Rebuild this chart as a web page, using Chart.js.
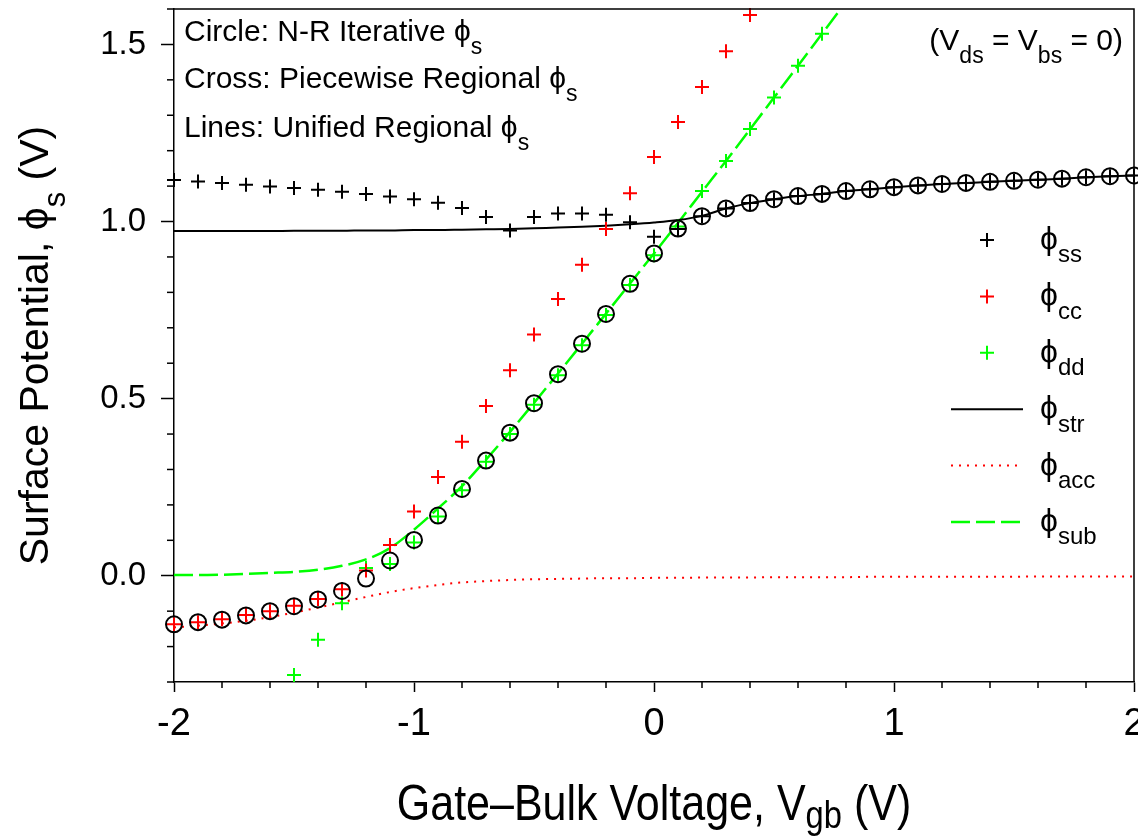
<!DOCTYPE html>
<html>
<head>
<meta charset="utf-8">
<script src="https://cdn.jsdelivr.net/npm/chart.js@4.4.0/dist/chart.umd.min.js"></script>
<style>
  html, body { margin: 0; padding: 0; background: #fff; }
</style>
</head>
<body>
<canvas id="surfChart" width="1138" height="837"></canvas>
<script>
// gate-bulk voltage grid (V)
const vgb = [-2.0, -1.9, -1.8, -1.7, -1.6, -1.5, -1.4, -1.3, -1.2, -1.1, -1.0, -0.9, -0.8, -0.7, -0.6, -0.5, -0.4, -0.3, -0.2, -0.1,
             0.0, 0.1, 0.2, 0.3, 0.4, 0.5, 0.6, 0.7, 0.8, 0.9, 1.0, 1.1, 1.2, 1.3, 1.4, 1.5, 1.6, 1.7, 1.8, 1.9, 2.0];

// circles: N-R iterative phi_s
const phiNR = [-0.137, -0.131, -0.124, -0.112, -0.100, -0.086, -0.067, -0.043, -0.008, 0.043, 0.101, 0.170, 0.245, 0.325, 0.404, 0.487, 0.569, 0.655, 0.739, 0.824,
               0.910, 0.980, 1.015, 1.037, 1.052, 1.063, 1.072, 1.078, 1.086, 1.091, 1.097, 1.102, 1.106, 1.109, 1.112, 1.115, 1.118, 1.121, 1.125, 1.128, 1.130];

// crosses: piecewise regional
const phiSS = [1.117, 1.113, 1.109, 1.104, 1.099, 1.095, 1.090, 1.084, 1.078, 1.071, 1.063, 1.053, 1.038, 1.013, 0.975, 1.013, 1.023, 1.023, 1.019, 0.998,
               0.957, 0.979, 1.015, 1.037, 1.052, 1.063, 1.072, 1.078, 1.086, 1.091, 1.097, 1.102, 1.106, 1.109, 1.112, 1.115, 1.118, 1.121, 1.125, 1.128, 1.130];

const vgbCC = [-2.0, -1.9, -1.8, -1.7, -1.6, -1.5, -1.4, -1.3, -1.2, -1.1, -1.0, -0.9, -0.8, -0.7, -0.6, -0.5, -0.4, -0.3, -0.2, -0.1, 0.0, 0.1, 0.2, 0.3, 0.4];
const phiCC = [-0.137, -0.131, -0.123, -0.111, -0.100, -0.085, -0.066, -0.038, 0.015, 0.087, 0.181, 0.279, 0.378, 0.479, 0.580, 0.681, 0.781, 0.878, 0.979, 1.080, 1.182, 1.281, 1.380, 1.481, 1.583];

const vgbDD = [-1.5, -1.4, -1.3, -1.2, -1.1, -1.0, -0.9, -0.8, -0.7, -0.6, -0.5, -0.4, -0.3, -0.2, -0.1, 0.0, 0.1, 0.2, 0.3, 0.4, 0.5, 0.6, 0.7];
const phiDD = [-0.280, -0.181, -0.078, 0.022, 0.033, 0.094, 0.167, 0.241, 0.322, 0.400, 0.483, 0.566, 0.651, 0.736, 0.821, 0.905, 0.986, 1.086, 1.171, 1.261, 1.350, 1.440, 1.530];

// lines: unified regional
const phiStr = [0.973, 0.973, 0.973, 0.973, 0.973, 0.974, 0.974, 0.974, 0.975, 0.975, 0.976, 0.976, 0.977, 0.978, 0.979, 0.981, 0.983, 0.985, 0.988, 0.992,
                0.997, 1.004, 1.016, 1.037, 1.052, 1.063, 1.072, 1.078, 1.086, 1.091, 1.097, 1.102, 1.106, 1.109, 1.112, 1.115, 1.118, 1.121, 1.125, 1.128, 1.130];

const phiAcc = [-0.146, -0.141, -0.135, -0.127, -0.117, -0.104, -0.090, -0.075, -0.060, -0.046, -0.035, -0.026, -0.019, -0.015, -0.012, -0.010, -0.009, -0.008, -0.007, -0.007,
                -0.006, -0.006, -0.005, -0.005, -0.005, -0.004, -0.004, -0.004, -0.004, -0.003, -0.003, -0.003, -0.003, -0.003, -0.003, -0.003, -0.002, -0.002, -0.002, -0.002, -0.002];

const vgbSub = [-2.0, -1.9, -1.8, -1.7, -1.6, -1.5, -1.4, -1.3, -1.2, -1.1, -1.0, -0.9, -0.8, -0.7, -0.6, -0.5, -0.4, -0.3, -0.2, -0.1, 0.0, 0.1, 0.2, 0.3, 0.4, 0.5, 0.6, 0.7, 0.8];
const phiSub = [0.002, 0.002, 0.003, 0.005, 0.008, 0.011, 0.017, 0.028, 0.046, 0.078, 0.130, 0.190, 0.253, 0.328, 0.406, 0.488, 0.571, 0.655, 0.740, 0.825,
                0.910, 0.996, 1.084, 1.171, 1.260, 1.350, 1.440, 1.530, 1.620];

const xMajor = [-2, -1, 0, 1, 2];
const yMajor = [0.0, 0.5, 1.0, 1.5];

const PHI = '\u03D5';
const SANS = "'Liberation Sans', Arial, sans-serif";
const DOT = [2, 6];
const DASH = [19, 6];

const pts = (xs, ys) => xs.map((x, i) => ({x: x, y: ys[i]}));
const near = (v, list) => list.some(m => Math.abs(v - m) < 1e-6);

// draw text with subscripts: parts = [[text, isSub], ...]
function richText(ctx, parts, x, y, size, family, align, subDrop) {
    const subSize = Math.round(size * 0.75);
    const drop = subDrop === undefined ? size * 0.42 : subDrop;
    let total = 0;
    parts.forEach(p => {
        ctx.font = (p[1] ? subSize : size) + 'px ' + family;
        total += ctx.measureText(p[0]).width;
    });
    let cx = x;
    if (align === 'center') cx = x - total / 2;
    if (align === 'right') cx = x - total;
    ctx.textAlign = 'left';
    ctx.textBaseline = 'alphabetic';
    parts.forEach(p => {
        ctx.font = (p[1] ? subSize : size) + 'px ' + family;
        ctx.fillText(p[0], cx, p[1] ? y + drop : y);
        cx += ctx.measureText(p[0]).width;
    });
}

const decorations = {
    id: 'decorations',
    afterDraw(chart) {
        const ctx = chart.ctx;
        const a = chart.chartArea;
        const xs = chart.scales.x, ys = chart.scales.y;
        ctx.save();
        ctx.strokeStyle = '#000';
        ctx.fillStyle = '#000';
        ctx.lineWidth = 1.5;

        // top and right frame
        ctx.beginPath();
        ctx.moveTo(a.left, a.top); ctx.lineTo(a.right, a.top); ctx.lineTo(a.right, a.bottom);
        ctx.stroke();

        // minor ticks
        xs.ticks.forEach(t => {
            if (near(t.value, xMajor)) return;
            const px = xs.getPixelForValue(t.value);
            ctx.beginPath(); ctx.moveTo(px, a.bottom); ctx.lineTo(px, a.bottom + 6); ctx.stroke();
        });
        ys.ticks.forEach(t => {
            if (near(t.value, yMajor)) return;
            const py = ys.getPixelForValue(t.value);
            ctx.beginPath(); ctx.moveTo(a.left, py); ctx.lineTo(a.left - 7, py); ctx.stroke();
        });

        // axis titles (x title is set condensed, as in the source figure)
        ctx.save();
        ctx.translate((a.left + a.right) / 2, 820);
        ctx.scale(0.86, 1);
        richText(ctx, [['Gate\u2013Bulk Voltage, V', false], ['gb', true], [' (V)', false]], 0, 0, 50, SANS, 'center', 8);
        ctx.restore();
        ctx.save();
        ctx.translate(48, (a.top + a.bottom) / 2);
        ctx.rotate(-Math.PI / 2);
        richText(ctx, [['Surface Potential, ' + PHI, false], ['s', true], [' (V)', false]], 0, 0, 41, SANS, 'center');
        ctx.restore();

        // notes
        richText(ctx, [['Circle: N-R Iterative ' + PHI, false], ['s', true]], 184, 41, 30, SANS, 'left');
        richText(ctx, [['Cross: Piecewise Regional ' + PHI, false], ['s', true]], 184, 88, 30, SANS, 'left');
        richText(ctx, [['Lines: Unified Regional ' + PHI, false], ['s', true]], 184, 137, 30, SANS, 'left');
        richText(ctx, [['(V', false], ['ds', true], [' = V', false], ['bs', true], [' = 0)', false]], 1123, 50, 30, SANS, 'right');

        // legend
        const rows = [
            {sub: 'ss', kind: 'cross', color: '#000'},
            {sub: 'cc', kind: 'cross', color: '#ff0000'},
            {sub: 'dd', kind: 'cross', color: '#00ff00'},
            {sub: 'str', kind: 'line', color: '#000', dash: [], w: 2},
            {sub: 'acc', kind: 'line', color: '#ff0000', dash: DOT, w: 2},
            {sub: 'sub', kind: 'line', color: '#00ff00', dash: DASH, w: 2.5}
        ];
        rows.forEach((r, i) => {
            const y = 240 + i * 56.4;
            ctx.strokeStyle = r.color;
            if (r.kind === 'cross') {
                ctx.lineWidth = 2;
                ctx.setLineDash([]);
                ctx.beginPath();
                ctx.moveTo(980, y); ctx.lineTo(994, y);
                ctx.moveTo(987, y - 7); ctx.lineTo(987, y + 7);
                ctx.stroke();
            } else {
                ctx.lineWidth = r.w;
                ctx.setLineDash(r.dash);
                ctx.beginPath(); ctx.moveTo(951, y); ctx.lineTo(1023, y); ctx.stroke();
            }
            ctx.setLineDash([]);
            ctx.fillStyle = '#000';
            richText(ctx, [[PHI, false], [r.sub, true]], 1040, y + 9, 32, SANS, 'left');
        });
        ctx.restore();
    }
};

const markerSet = (label, xs, ys, color, style, radius) => ({
    label: label,
    data: pts(xs, ys),
    showLine: false,
    pointStyle: style,
    pointRadius: radius,
    pointHoverRadius: radius,
    borderColor: color,
    backgroundColor: 'rgba(0,0,0,0)',
    pointBorderWidth: 2,
    clip: false
});

const lineSet = (label, xs, ys, color, dash, width) => ({
    label: label,
    data: pts(xs, ys),
    showLine: true,
    pointRadius: 0,
    borderColor: color,
    borderWidth: width,
    borderDash: dash,
    cubicInterpolationMode: 'monotone',
    fill: false
});

// end labels may hang over the plot box (the "2" is cut by the page edge, as in the source)
const fitX = s => {
    s.height = 155;
    s.paddingLeft = 0;
    s.paddingRight = 0;
};
const fitY = s => {
    s.width = 174;
    s.paddingTop = 0;
    s.paddingBottom = 0;
};

const ctx = document.getElementById('surfChart').getContext('2d');
new Chart(ctx, {
    type: 'scatter',
    data: {
        datasets: [
            markerSet('NR', vgb, phiNR, '#000', 'circle', 8),
            markerSet('ss', vgb, phiSS, '#000', 'cross', 7),
            markerSet('cc', vgbCC, phiCC, '#ff0000', 'cross', 7),
            markerSet('dd', vgbDD, phiDD, '#00ff00', 'cross', 7),
            lineSet('str', vgb, phiStr, '#000', [], 2),
            lineSet('acc', vgb, phiAcc, '#ff0000', DOT, 2),
            lineSet('sub', vgbSub, phiSub, '#00ff00', DASH, 2.5)
        ]
    },
    options: {
        responsive: false,
        animation: false,
        events: [],
        layout: {autoPadding: false, padding: {top: 9, right: 4, left: 0, bottom: 0}},
        plugins: {
            legend: {display: false},
            tooltip: {enabled: false},
            title: {display: false}
        },
        scales: {
            x: {
                type: 'linear',
                min: -2,
                max: 2,
                afterFit: fitX,
                border: {display: true, color: '#000', width: 1.5},
                grid: {
                    drawOnChartArea: false,
                    tickLength: 10,
                    tickWidth: 1.5,
                    tickColor: c => near(c.tick.value, xMajor) ? '#000' : 'rgba(0,0,0,0)'
                },
                ticks: {
                    stepSize: 0.2,
                    autoSkip: false,
                    maxRotation: 0,
                    padding: 10,
                    color: '#000',
                    font: {family: SANS, size: 38},
                    callback: v => near(v, xMajor) ? String(Math.round(v)) : ''
                }
            },
            y: {
                type: 'linear',
                min: -0.3,
                max: 1.6,
                afterFit: fitY,
                border: {display: true, color: '#000', width: 1.5},
                grid: {
                    drawOnChartArea: false,
                    tickLength: 13,
                    tickWidth: 1.5,
                    tickColor: c => near(c.tick.value, yMajor) ? '#000' : 'rgba(0,0,0,0)'
                },
                ticks: {
                    stepSize: 0.1,
                    autoSkip: false,
                    padding: 15,
                    color: '#000',
                    font: {family: SANS, size: 33},
                    callback: v => near(v, yMajor) ? (Math.abs(v) < 1e-9 ? 0 : v).toFixed(1) : ''
                }
            }
        }
    },
    plugins: [decorations]
});
</script>
</body>
</html>
